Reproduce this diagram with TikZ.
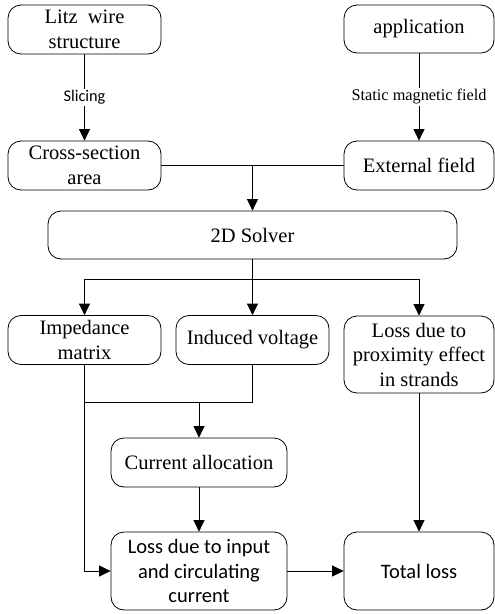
\documentclass[tikz,border=0pt]{standalone}
\usepackage{fontspec}
\setmainfont{Liberation Serif}
\newfontfamily\calib{Carlito}
\usetikzlibrary{arrows.meta}
\begin{document}
\begin{tikzpicture}[x=1pt,y=-1pt,
  box/.style={draw,line width=0.8pt,rounded corners=13pt,align=center,inner sep=1pt,
    font=\fontsize{20.5}{24.5}\selectfont},
  lbl/.style={fill=white,inner sep=1.5pt,font=\fontsize{16.3}{19}\selectfont},
  conn/.style={line width=0.8pt},
  arr/.style={line width=0.8pt,-{Triangle[length=11.5pt,width=11pt]}}]
\useasboundingbox (0,0) rectangle (495,614);
% top row
\node[box,minimum width=153pt,minimum height=49pt] (litz) at (84.5,29.5) {Litz\ \ wire\\structure};
\node[box,minimum width=150pt,minimum height=48pt] (app) at (419,29) {application};
\node[box,minimum width=153pt,minimum height=49pt] (cross) at (84.5,165.5) {Cross-section\\area};
\node[box,minimum width=150pt,minimum height=49pt] (ext) at (419,165.5) {External field};
\node[box,minimum width=409pt,minimum height=48pt] (solver) at (252.5,235) {2D Solver};
% middle row
\node[box,minimum width=153pt,minimum height=49pt] (imp) at (84.5,340) {Impedance\\matrix};
\node[box,minimum width=153pt,minimum height=49pt] (ind) at (252.5,340) {Induced voltage};
\node[box,minimum width=150pt,minimum height=77pt] (prox) at (419,354.5) {Loss due to\\proximity effect\\in strands};
% lower part
\node[box,minimum width=176pt,minimum height=49pt] (cur) at (199,462.5) {Current allocation};
\node[box,minimum width=176pt,minimum height=78pt,font=\calib\fontsize{20.5}{24.5}\selectfont] (lossin) at (199,571) {Loss due to input\\and circulating\\current};
\node[box,minimum width=150pt,minimum height=78pt,font=\calib\fontsize{20.5}{24.5}\selectfont] (total) at (419,571) {Total loss};
% junctions
\coordinate (j1) at (252.5,165.5);
\coordinate (j2) at (252.5,279);
\coordinate (j3) at (199,402);
% connectors
\draw[arr] (litz.south) -- node[lbl,font=\calib\fontsize{16.3}{19}\selectfont] {Slicing} (cross.north);
\draw[arr] (app.south) -- node[lbl] {Static magnetic field} (ext.north);
\draw[conn] (cross.east) -- (ext.west);
\draw[arr] (j1) -- (solver.north);
\draw[conn] (solver.south) -- (j2);
\draw[arr] (j2) -| (imp.north);
\draw[arr] (j2) -| (prox.north);
\draw[arr] (j2) -- (ind.north);
\draw[conn] (imp.south) |- (ind.south |- j3) -- (ind.south);
\draw[arr] (j3) -- (cur.north);
\draw[arr] (imp.south) |- (lossin.west);
\draw[arr] (cur.south) -- (lossin.north);
\draw[arr] (lossin.east) -- (total.west);
\draw[arr] (prox.south) -- (total.north);
\end{tikzpicture}
\end{document}
